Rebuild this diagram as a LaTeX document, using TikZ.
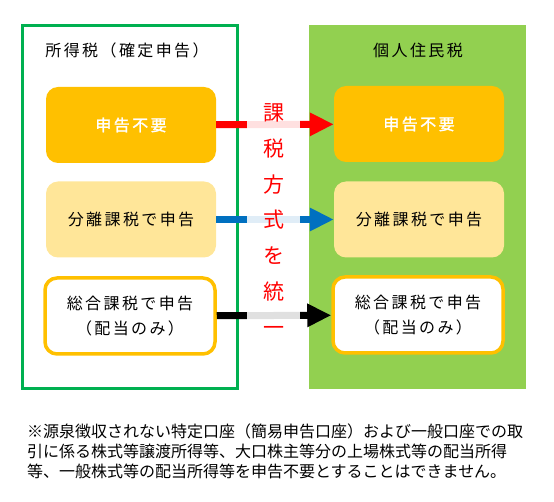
\documentclass[tikz,border=0pt]{standalone}
\usepackage{fontspec}
\setmainfont{Noto Sans CJK JP}[AutoFakeBold=1.5]
\newfontfamily\spacedjp{Noto Sans CJK JP}[LetterSpace=15, AutoFakeBold=1.5]
\usetikzlibrary{positioning, arrows.meta}

\definecolor{framegreen}{RGB}{0,176,80}
\definecolor{panelgreen}{RGB}{146,208,80}
\definecolor{boxorange}{RGB}{255,192,0}
\definecolor{boxpale}{RGB}{255,230,153}
\definecolor{arrowblue}{RGB}{0,112,192}

\begin{document}
\begin{tikzpicture}[x=1pt, y=-1pt,
    box/.style={rectangle, rounded corners=12pt, minimum width=170pt, minimum height=76pt, align=center, inner sep=0pt, font=\spacedjp\fontsize{16}{25}\selectfont},
    nobox/.style={box, fill=boxorange, text=white, font=\spacedjp\fontsize{16}{25}\selectfont\bfseries},
    sepbox/.style={box, fill=boxpale},
    sumbox/.style={box, draw=boxorange, line width=3.5pt, fill=white},
    title/.style={font=\spacedjp\fontsize{16}{20}\selectfont},
    arrow/.style={-{Triangle[length=24pt, width=22pt]}, line width=7pt}
]
    \useasboundingbox (0,0) rectangle (554,502);

    % two columns
    \fill[panelgreen] (309,25) rectangle (526,389);
    \draw[framegreen, line width=3pt] (22,25.5) rectangle (237,388);

    \node[title] (income) at (127,50) {所得税（確定申告）};
    \node[title] (resident) at (418,50) {個人住民税};

    \node[nobox] (noL) at (131,125) {申告不要};
    \node[sepbox] (sepL) at (131,219.5) {分離課税で申告};
    \node[sumbox] (sumL) at (130,316) {総合課税で申告\\（配当のみ）};

    \node[nobox] (noR) at (419,124) {申告不要};
    \node[sepbox] (sepR) at (419,219.5) {分離課税で申告};
    \node[sumbox] (sumR) at (418,315) {総合課税で申告\\（配当のみ）};

    \draw[arrow, red] (noL) -- (noR);
    \draw[arrow, arrowblue] (sepL) -- (sepR);
    \draw[arrow, black] (sumL) -- (sumR);

    \node[fill=white, fill opacity=0.88, text opacity=1, text=red, minimum width=53pt, inner sep=4pt, align=center,
        font=\fontsize{21}{35.8}\selectfont] (unify) at (273.5,219.5)
        {課\\税\\方\\式\\を\\統\\一};

    \node[anchor=west, align=left, inner sep=0pt, font=\fontsize{16}{20}\selectfont] (note) at (27,451)
        {※源泉徴収されない特定口座（簡易申告口座）および一般口座での取\\
         引に係る株式等譲渡所得等、大口株主等分の上場株式等の配当所得\\
         等、一般株式等の配当所得等を申告不要とすることはできません。};
\end{tikzpicture}
\end{document}
